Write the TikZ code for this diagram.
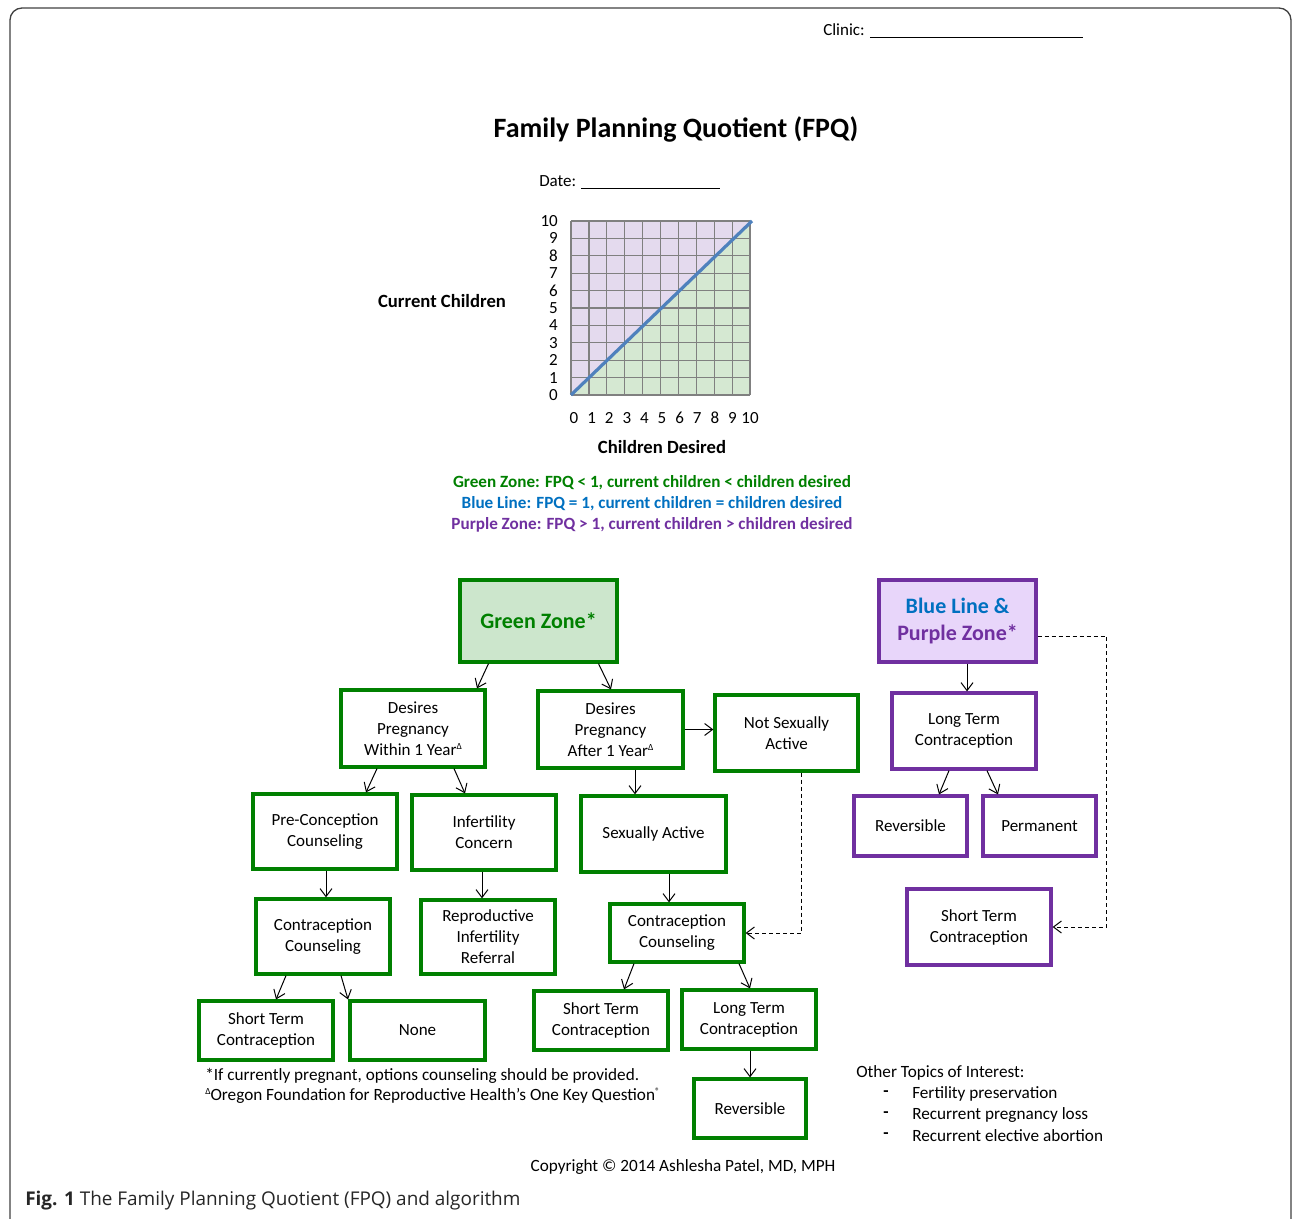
\documentclass[tikz,border=0pt]{standalone}
\usepackage{fontspec}
\setmainfont{Carlito}
\newfontfamily\capfont{Open Sans}
\usetikzlibrary{arrows.meta,calc}
\definecolor{zgreen}{HTML}{008000}
\definecolor{zblue}{HTML}{0070C0}
\definecolor{zpurple}{HTML}{7030A0}
\definecolor{gzfill}{HTML}{CCE6CC}
\definecolor{bpfill}{HTML}{E8D6FA}
\definecolor{gridgreen}{HTML}{D5E8D2}
\definecolor{gridpurple}{HTML}{E4DAEE}
\definecolor{gridline}{HTML}{808080}
\definecolor{lineblue}{HTML}{4F81BD}
\definecolor{framec}{HTML}{404040}
\newcommand\supmark[1]{\raisebox{0.75ex}{\fontsize{7}{7}\selectfont #1}}
\tikzset{
  boxbase/.style={draw, line width=2.4pt, align=center, inner sep=2pt,
    font=\fontsize{12.75}{15.75}\selectfont},
  gbox/.style={boxbase, draw=zgreen},
  pbox/.style={boxbase, draw=zpurple},
  arr/.style={line width=0.75pt, -{Straight Barb[length=6pt,width=9pt]}},
  dasharr/.style={arr, dash pattern=on 3pt off 2.25pt},
  txt/.style={inner sep=0pt, font=\fontsize{12.75}{15.75}\selectfont},
  small/.style={inner sep=0pt, font=\fontsize{12.9}{15}\selectfont},
}
\begin{document}
\begin{tikzpicture}[x=0.75pt,y=-0.75pt]
\useasboundingbox (0,0) rectangle (1292,1219);
% frame
\draw[framec, line width=1pt, rounded corners=9pt] (10,1219) -- (10,8) -- (1291,8) -- (1291,1219);

% header
\node[txt, anchor=west] (clinic) at (823,31) {Clinic: \rule[-2pt]{160pt}{0.6pt}};
\node[inner sep=0pt, font=\fontsize{21}{25}\selectfont\bfseries] (title) at (676,129) {Family Planning Quotient (FPQ)};
\node[txt, anchor=west] (date) at (539,182) {Date: \rule[-2pt]{104pt}{0.6pt}};

% chart
\fill[gridpurple] (571,395) -- (571,221) -- (750,221) -- cycle;
\fill[gridgreen] (571,395) -- (750,395) -- (750,221) -- cycle;
\foreach \i in {0,...,10} {
  \draw[gridline, line width=0.9pt] (571+17.9*\i,221) -- (571+17.9*\i,395);
  \draw[gridline, line width=0.9pt] (571,395-17.4*\i) -- (750,395-17.4*\i);
  \node[txt, anchor=east] (yl\i) at (558,395-17.4*\i) {\i};
  \node[txt] (xl\i) at (574+17.6*\i,418) {\i};
}
\draw[lineblue, line width=2.4pt] (571,395) -- (752,221);
\node[inner sep=0pt, font=\fontsize{14}{17}\selectfont\bfseries] (ylab) at (442,301) {Current Children};
\node[inner sep=0pt, font=\fontsize{14}{17}\selectfont\bfseries] (xlab) at (662,447) {Children Desired};

% legend
\node[inner sep=0pt, font=\fontsize{12.85}{15}\selectfont\bfseries, text=zgreen] (lg1) at (652,483) {Green Zone: FPQ < 1, current children < children desired};
\node[inner sep=0pt, font=\fontsize{12.85}{15}\selectfont\bfseries, text=zblue] (lg2) at (652,504) {Blue Line: FPQ = 1, current children = children desired};
\node[inner sep=0pt, font=\fontsize{12.85}{15}\selectfont\bfseries, text=zpurple] (lg3) at (652,525) {Purple Zone: FPQ > 1, current children > children desired};

% flowchart nodes
\node[gbox, fill=gzfill, minimum width=117.75pt, minimum height=61.5pt,
  font=\fontsize{16.5}{19}\selectfont\bfseries, text=zgreen] (gz) at (538.5,621) {Green Zone*};
\node[pbox, fill=bpfill, minimum width=117.75pt, minimum height=61.5pt,
  font=\fontsize{16.5}{20.5}\selectfont\bfseries] (bp) at (957.5,621) {\textcolor{zblue}{Blue Line \&}\\\textcolor{zpurple}{Purple Zone*}};
\node[gbox, minimum width=108pt, minimum height=57.75pt] (dw) at (413,728.5) {Desires\\Pregnancy\\Within 1 Year\supmark{Δ}};
\node[gbox, minimum width=108.75pt, minimum height=57.75pt] (da) at (610.5,729.5) {Desires\\Pregnancy\\After 1 Year\supmark{Δ}};
\node[gbox, minimum width=107.25pt, minimum height=57pt] (ns) at (786.5,733) {Not Sexually\\Active};
\node[pbox, minimum width=108pt, minimum height=57pt] (lp) at (964,731) {Long Term\\Contraception};
\node[pbox, minimum width=84.75pt, minimum height=45pt] (rp) at (910.5,826) {Reversible};
\node[pbox, minimum width=84.75pt, minimum height=45pt] (pp) at (1039.5,826) {Permanent};
\node[pbox, minimum width=108pt, minimum height=57pt] (sp) at (979,927) {Short Term\\Contraception};
\node[gbox, minimum width=108pt, minimum height=56.25pt] (pc) at (325,831.5) {Pre-Conception\\Counseling};
\node[gbox, minimum width=108pt, minimum height=56.25pt] (ic) at (484,832.5) {Infertility\\Concern};
\node[gbox, minimum width=108.75pt, minimum height=57pt] (sa) at (653.5,834) {Sexually Active};
\node[gbox, minimum width=100.5pt, minimum height=56.25pt] (cc1) at (323,936.5) {Contraception\\Counseling};
\node[gbox, minimum width=100.5pt, minimum height=55.5pt] (rir) at (488,937) {Reproductive\\Infertility\\Referral};
\node[gbox, minimum width=100.5pt, minimum height=43.5pt] (cc2) at (677,933) {Contraception\\Counseling};
\node[gbox, minimum width=100.5pt, minimum height=44.25pt] (st1) at (266,1030.5) {Short Term\\Contraception};
\node[gbox, minimum width=101.25pt, minimum height=44.25pt] (none) at (417.5,1030.5) {None};
\node[gbox, minimum width=100.5pt, minimum height=44.25pt] (st2) at (601,1020.5) {Short Term\\Contraception};
\node[gbox, minimum width=100.5pt, minimum height=44.25pt] (lt2) at (749,1019.5) {Long Term\\Contraception};
\node[gbox, minimum width=84pt, minimum height=44.25pt] (rv2) at (750,1108.5) {Reversible};

% connectors
\draw[arr] ($(gz.south)+(-50,0)$) -- ($(dw.north)+(64,0)$);
\draw[arr] ($(gz.south)+(60,0)$) -- ($(da.north)+(0.5,0)$);
\draw[arr] ($(dw.south)+(-36,0)$) -- ($(pc.north)+(41,0)$);
\draw[arr] ($(dw.south)+(41,0)$) -- ($(ic.north)+(-19,0)$);
\draw[arr] (da.east) -- (da.east -| ns.west);
\draw[arr] ($(da.south)+(24.5,0)$) -- ($(sa.north)+(-18.5,0)$);
\draw[arr] ($(pc.south)+(1,0)$) -- ($(cc1.north)+(3,0)$);
\draw[arr] ($(ic.south)+(-2,0)$) -- ($(rir.north)+(-6,0)$);
\draw[arr] ($(sa.south)+(15.5,0)$) -- ($(cc2.north)+(-8,0)$);
\draw[arr] ($(cc1.south)+(-37,0)$) -- ($(st1.north)+(10,0)$);
\draw[arr] ($(cc1.south)+(18,0)$) -- ($(none.north)+(-69.5,0)$);
\draw[arr] ($(cc2.south)+(-43,0)$) -- ($(st2.north)+(23,0)$);
\draw[arr] ($(cc2.south)+(62,0)$) -- ($(lt2.north)+(1,0)$);
\draw[arr] ($(lt2.south)+(1,0)$) -- (rv2.north);
\draw[arr] ($(bp.south)+(9.5,0)$) -- ($(lp.north)+(3,0)$);
\draw[arr] ($(lp.south)+(-15,0)$) -- ($(rp.north)+(28.5,0)$);
\draw[arr] ($(lp.south)+(23,0)$) -- ($(pp.north)+(-41.5,0)$);
\draw[dasharr] ($(ns.south)+(15,0)$) |- (cc2.east);
\draw[dasharr] ($(bp.east)+(0,15)$) -- ++(69,0) |- (sp.east);

% footnotes
\node[small, anchor=west] (fn1) at (205,1076) {*If currently pregnant, options counseling should be provided.};
\node[small, anchor=west] (fn2) at (205,1096) {\supmark{Δ}Oregon Foundation for Reproductive Health’s One Key Question\supmark{®}};

\node[small, anchor=west] (ot) at (856,1073) {Other Topics of Interest:};
\foreach \t [count=\k] in {Fertility preservation, Recurrent pregnancy loss, Recurrent elective abortion} {
  \node[small, anchor=west, font=\fontsize{12.9}{15}\selectfont\bfseries] (dash\k) at (883,1073+21*\k) {-};
  \node[small, anchor=west] (ot\k) at (912,1073+21*\k) {\t};
}
\node[small] (copy) at (683,1167) {Copyright © 2014 Ashlesha Patel, MD, MPH};

% caption
\node[inner sep=0pt, anchor=west, font=\capfont\fontsize{14.2}{17}\selectfont, text=black!85] (cap) at (25,1201) {\textbf{Fig. 1} The Family Planning Quotient (FPQ) and algorithm};
\end{tikzpicture}
\end{document}
